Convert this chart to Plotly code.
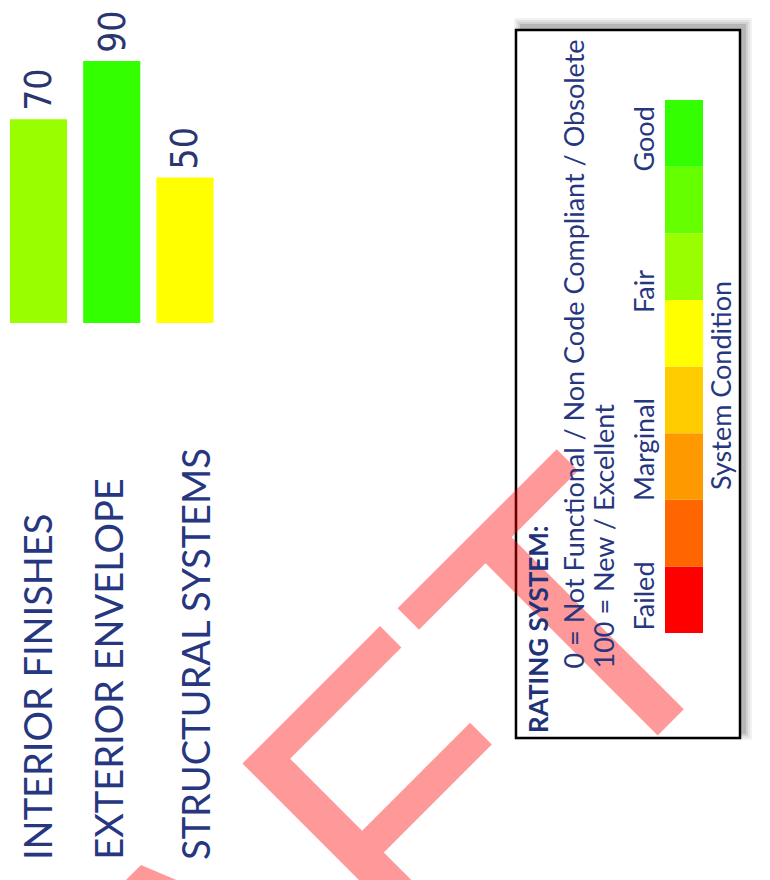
import plotly.graph_objects as go

W, H = 770, 880

# ---------------- data ----------------
categories = ["INTERIOR FINISHES", "EXTERIOR ENVELOPE", "STRUCTURAL SYSTEMS"]
values = [70, 90, 50]
bar_colors = ["#99FF00", "#33FF00", "#FFFF00"]

scale_steps = [12.5] * 8
scale_base = [0, 12.5, 25, 37.5, 50, 62.5, 75, 87.5]
scale_colors = ["#FF0000", "#FF6600", "#FF9900", "#FFCC00",
                "#FFFF00", "#99FF00", "#66FF00", "#33FF00"]
scale_labels = ["Failed", "Marginal", "Fair", "Good"]

legend_title = "RATING SYSTEM:"
legend_lines = ["0 = Not Functional / Non Code Compliant / Obsolete",
                "100 = New / Excellent"]
scale_title = "System Condition"
watermark = "DRAFT"

NAVY = "#27377F"
FONT = "Lato, 'Open Sans', sans-serif"
NARROW = "'Liberation Sans Narrow', 'DejaVu Sans Condensed', Lato, sans-serif"


def px(x):
    return x / W


def py(y):
    return 1 - y / H


fig = go.Figure()

fig.add_trace(go.Bar(
    x=categories, y=values, marker=dict(color=bar_colors, line=dict(width=0)),
    width=0.78, xaxis="x", yaxis="y", hoverinfo="skip", showlegend=False,
))

fig.add_trace(go.Bar(
    x=[0] * len(scale_steps), y=scale_steps, base=scale_base, width=1,
    marker=dict(color=scale_colors, line=dict(width=0)),
    xaxis="x2", yaxis="y2", hoverinfo="skip", showlegend=False,
))

ann = []
# watermark (drawn first, semi transparent)
ann.append(dict(text=watermark, xref="paper", yref="paper", x=px(190), y=py(1008),
                xanchor="center", yanchor="middle", textangle=-45, showarrow=False,
                font=dict(family="'Liberation Sans', Arial, sans-serif", size=398,
                          color="rgba(255,0,0,0.4)")))

# category labels
label_shift = [-1.5, -4.5, 10]
for c, s in zip(categories, label_shift):
    ann.append(dict(text=c, xref="x", yref="paper", x=c, y=py(862), xshift=s,
                    xanchor="center", yanchor="bottom", textangle=-90, showarrow=False,
                    font=dict(family=FONT, size=38, color=NAVY)))

# value labels
for c, v in zip(categories, values):
    ann.append(dict(text=str(v), xref="x", yref="y", x=c, y=v, yshift=6,
                    xanchor="center", yanchor="bottom", textangle=-90, showarrow=False,
                    font=dict(family=NARROW, size=37, color="#2B3670")))

# legend texts
ann.append(dict(text="<b>" + legend_title + "</b>", xref="paper", yref="paper",
                x=px(538), y=py(735), xanchor="center", yanchor="bottom",
                textangle=-90, showarrow=False,
                font=dict(family=FONT, size=26, color="#1F3378")))
for xc, t in zip([573, 603], legend_lines):
    ann.append(dict(text=t, xref="paper", yref="paper", x=px(xc), y=py(671),
                    xanchor="center", yanchor="bottom", textangle=-90, showarrow=False,
                    font=dict(family=FONT, size=27, color=NAVY)))

lab_pos = [(633, "bottom"), (450, "middle"), (292, "middle"), (105, "top")]
for t, (yy, anc) in zip(scale_labels, lab_pos):
    ann.append(dict(text=t, xref="paper", yref="paper", x=px(643), y=py(yy),
                    xanchor="center", yanchor=anc, textangle=-90, showarrow=False,
                    font=dict(family=FONT, size=27, color=NAVY)))

ann.append(dict(text=scale_title, xref="paper", yref="paper", x=px(720), y=py(386),
                xanchor="center", yanchor="middle", textangle=-90, showarrow=False,
                font=dict(family=FONT, size=27, color=NAVY)))

# legend box with soft shadow
shapes = []
bx0, by0, bx1, by1 = 516, 30, 740, 738
for s, a in [(7, 0.05), (5, 0.06), (3, 0.08), (1, 0.12)]:
    shapes.append(dict(type="rect", xref="paper", yref="paper", layer="below",
                       x0=px(bx0 + 5 - s), x1=px(bx1 + 5 + s),
                       y0=py(by1 - 5 + s), y1=py(by0 - 5 - s),
                       line=dict(width=0), fillcolor=f"rgba(0,0,0,{a})"))
shapes.append(dict(type="rect", xref="paper", yref="paper", layer="below",
                   x0=px(bx0), x1=px(bx1), y0=py(by1), y1=py(by0),
                   line=dict(color="black", width=2.5), fillcolor="white"))

hidden = dict(showgrid=False, zeroline=False, showline=False, showticklabels=False,
              ticks="", fixedrange=True)

fig.update_layout(
    width=W, height=H, margin=dict(l=0, r=0, t=0, b=0),
    paper_bgcolor="white", plot_bgcolor="rgba(0,0,0,0)",
    showlegend=False,
    xaxis=dict(domain=[px(1.9), px(221.6)], range=[-0.5, 2.5], type="category", **hidden),
    yaxis=dict(domain=[py(323), py(32)], range=[0, 100], **hidden),
    xaxis2=dict(domain=[px(665), px(703)], range=[-0.5, 0.5], anchor="y2", **hidden),
    yaxis2=dict(domain=[py(633), py(100)], range=[0, 100], anchor="x2", **hidden),
    annotations=ann, shapes=shapes,
)

fig.write_html("out.html")
